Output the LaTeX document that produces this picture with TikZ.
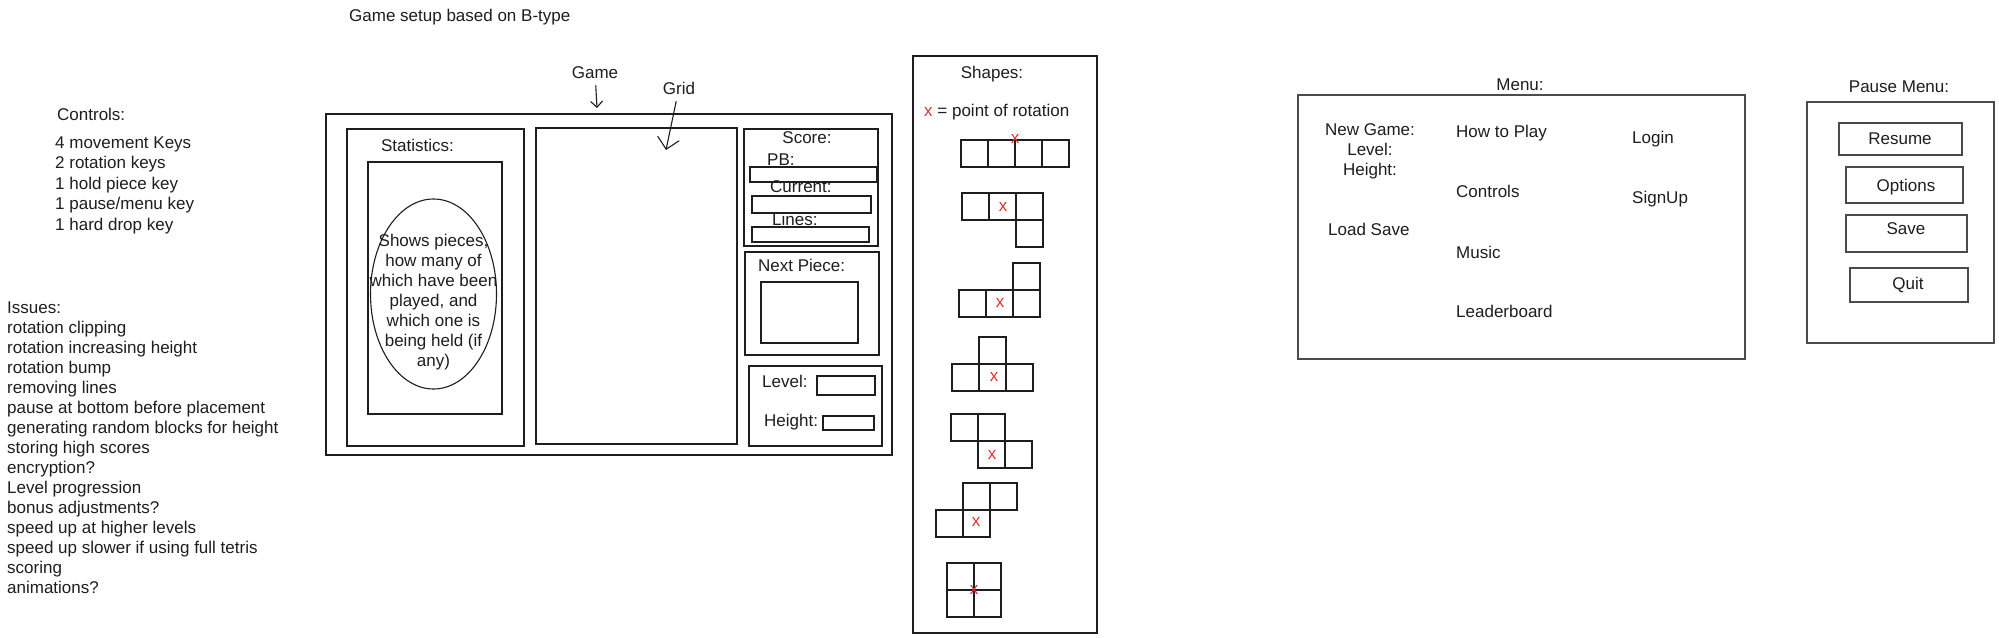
\documentclass[tikz,border=0pt]{standalone}
\usepackage{fontspec}
\setmainfont{Liberation Sans}
\definecolor{ink}{HTML}{1E1E1E}
\definecolor{rotred}{HTML}{E03131}
\usetikzlibrary{arrows.meta}
\newcommand{\handfont}{\fontsize{17}{20}\selectfont}

\begin{document}
\begin{tikzpicture}[
  x=1pt, y=-1pt,
  every node/.style={font=\handfont, text=ink, inner sep=0pt},
  lbl/.style={anchor=base west},
  mid/.style={anchor=base},
  panel/.style={draw=ink, line width=1.3pt},
  field/.style={draw=ink, line width=1.1pt},
  cellbox/.style={draw=ink, line width=1.2pt},
  menubox/.style={draw=ink!80, line width=1.3pt},
  rotmark/.style={text=rotred, anchor=center},
  arrow/.style={-{Straight Barb[length=#1]}, line width=1.1pt, ink, shorten <=7pt},
  arrow/.default=7pt
]
\useasboundingbox (0,0) rectangle (1999,637);
\fill[white] (0,0) rectangle (1999,637);

% notes on the left
\node[lbl] (ctrlhead) at (57,120) {Controls:};
\foreach \txt [count=\i] in {4 movement Keys, 2 rotation keys, 1 hold piece key,
    1 pause/menu key, 1 hard drop key}
  \node[lbl] (ctrl\i) at (55,127.5+20.5*\i) {\txt};

\foreach \txt [count=\i from 0] in {Issues:, rotation clipping, rotation increasing height,
    rotation bump, removing lines, pause at bottom before placement,
    generating random blocks for height, storing high scores, encryption?,
    Level progression, bonus adjustments?, speed up at higher levels,
    speed up slower if using full tetris, scoring, animations?}
  \node[lbl] (iss\i) at (7,313+20*\i) {\txt};

% game screen
\node[lbl] (title) at (349,21) {Game setup based on B-type};
\draw[panel] (326,114) rectangle (892,455);
\node[mid] (gamelbl) at (595,78) {Game};
\node[mid] (gridlbl) at (679,94) {Grid};
\coordinate (gametip) at (597,108);
\coordinate (gridtip) at (666,150);
\draw[arrow=6pt] (gamelbl) -- (gametip);
\draw[arrow=11pt] (gridlbl) -- (gridtip);

\draw[panel] (347,129) rectangle (524,446);
\node[mid] (statlbl) at (417.5,151) {Statistics:};
\draw[panel] (368,162) rectangle (502,414);
\draw[field] (433.5,294) ellipse [x radius=63, y radius=95];
\node[align=center] (stattxt) at (433.5,302.5)
  {Shows pieces,\\how many of\\which have been\\played, and\\which one is\\being held (if\\any)};

\draw[panel] (536,128) rectangle (737,444);

\draw[panel] (744,129) rectangle (878,246);
\node[mid] (scorelbl) at (807,143) {Score:};
\node[lbl] (pblbl) at (767,165) {PB:};
\draw[field] (750,167) rectangle (877,182);
\node[lbl] (curlbl) at (770,192) {Current:};
\draw[field] (752,196) rectangle (871,213);
\node[lbl] (lineslbl) at (772,225) {Lines:};
\draw[field] (752,227) rectangle (869,242);

\draw[panel] (745,252) rectangle (879,355);
\node[lbl] (nextlbl) at (758,271) {Next Piece:};
\draw[field] (761,282) rectangle (858,343);

\draw[panel] (749,366) rectangle (882,446);
\node[lbl] (levellbl) at (762,387) {Level:};
\draw[field] (817,376) rectangle (875,395);
\node[lbl] (heightlbl) at (764,426) {Height:};
\draw[field] (823,416) rectangle (874,430);

% pieces
\draw[panel] (913,56) rectangle (1097,633);
\node[mid] (shapeslbl) at (992,78) {Shapes:};
\node[lbl] (rotkey) at (924,116) {\textcolor{rotred}{x} = point of rotation};
\foreach \ox/\oy/\cells in {961/140/{0/0,1/0,2/0,3/0}, 962/193/{0/0,1/0,2/0,2/1},
    959/290/{0/0,1/0,2/0,2/-1}, 952/364/{0/0,1/0,2/0,1/-1}, 951/414/{0/0,1/0,1/1,2/1},
    936/483/{1/0,2/0,0/1,1/1}, 947/563/{0/0,1/0,0/1,1/1}}
  \foreach \cx/\cy in \cells
    \draw[cellbox] (\ox+27*\cx,\oy+27*\cy) rectangle ++(27,27);
\foreach \mx/\my [count=\i] in {1015/139, 1003/207, 1000/303, 994/377, 992/455, 976/522, 974/590}
  \node[rotmark] (rot\i) at (\mx,\my) {x};

% main menu
\node[mid] (menulbl) at (1520,90) {Menu:};
\draw[menubox] (1298,95) rectangle (1745,359);
\node[align=center, anchor=north] (newgame) at (1370,123) {New Game:\\Level:\\Height:};
\node[lbl] (loadsave) at (1328,235) {Load Save};
\node[lbl] (howto) at (1456,137) {How to Play};
\node[lbl] (controls) at (1456,197) {Controls};
\node[lbl] (music) at (1456,258) {Music};
\node[lbl] (board) at (1456,317) {Leaderboard};
\node[lbl] (login) at (1632,143) {Login};
\node[lbl] (signup) at (1632,203) {SignUp};

% pause menu
\node[mid] (pauselbl) at (1899,92) {Pause Menu:};
\draw[menubox] (1807,102) rectangle (1994,343);
\draw[menubox] (1839,123) rectangle (1962,155);
\node[mid] (resume) at (1900,144) {Resume};
\draw[menubox] (1846,167) rectangle (1963,203);
\node[mid] (options) at (1906,191) {Options};
\draw[menubox] (1846,215) rectangle (1967,252);
\node[mid] (save) at (1906,234) {Save};
\draw[menubox] (1850,268) rectangle (1968,302);
\node[mid] (quit) at (1908,289) {Quit};
\end{tikzpicture}
\end{document}
